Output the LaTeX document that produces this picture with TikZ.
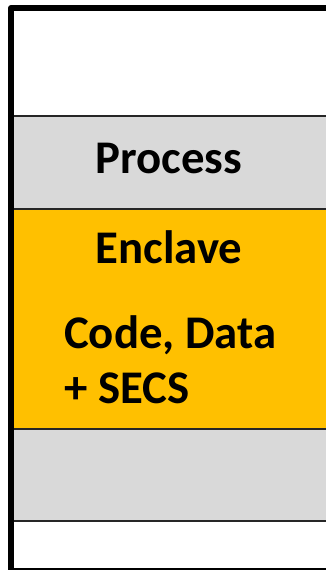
\documentclass[tikz,border=0pt]{standalone}
\usepackage{fontspec}
\setmainfont{Carlito}
\begin{document}
\begin{tikzpicture}[x=1pt,y=-1pt,
  band/.style={draw=none},
  divider/.style={line width=2pt,draw=black!85},
  frame/.style={line width=6pt,draw=black,line join=round},
  label/.style={inner sep=0pt,font=\bfseries\fontsize{46.8}{55}\selectfont,text=black}]
  \definecolor{encyellow}{HTML}{FFC000}
  \definecolor{memgray}{HTML}{D9D9D9}
  \clip (0,0) rectangle (326,570);
  % memory bands
  \fill[band,white]      (11,8)     rectangle (340,116);
  \fill[band,memgray]    (11,116)   rectangle (340,209);
  \fill[band,encyellow]  (11,209)   rectangle (340,429);
  \fill[band,memgray]    (11,429)   rectangle (340,520.5);
  \fill[band,white]      (11,520.5) rectangle (340,571);
  % band boundaries
  \draw[divider] (11,116)   -- (340,116);
  \draw[divider] (11,209)   -- (340,209);
  \draw[divider] (11,429)   -- (340,429);
  \draw[divider] (11,520.5) -- (340,520.5);
  % outer frame of the address space
  \draw[frame] (11,8) rectangle (340,571);
  % labels
  \node[label,anchor=base] (proc) at (168.7,173.5) {Process};
  \node[label,anchor=base] (encl) at (169,263) {Enclave};
  \node[label,anchor=base west] (code) at (64,348) {Code, Data};
  \node[label,anchor=base west] (secs) at (64,403) {+ SECS};
\end{tikzpicture}
\end{document}
